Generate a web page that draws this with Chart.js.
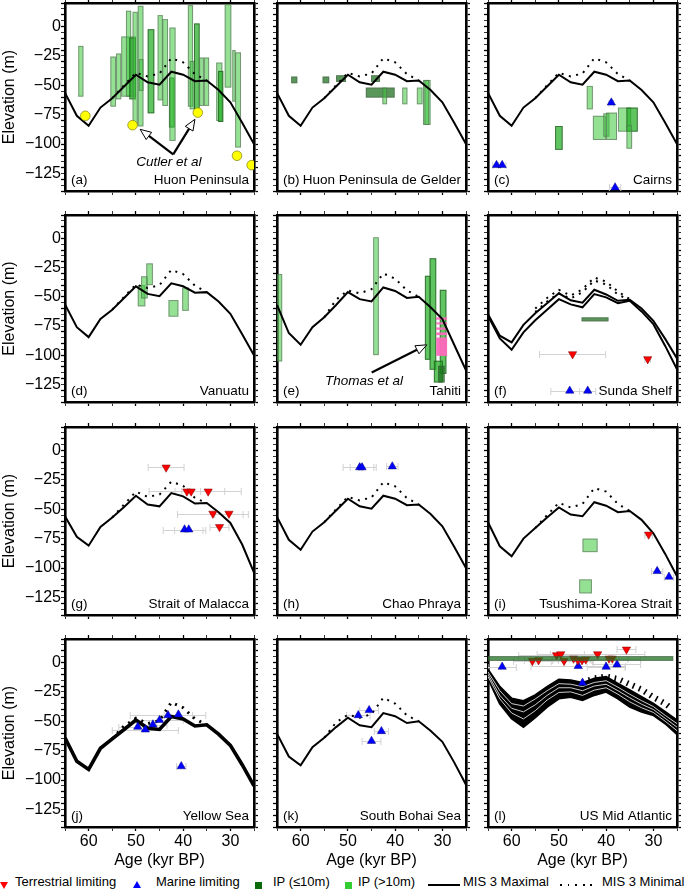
<!DOCTYPE html>
<html>
<head>
<meta charset="utf-8">
<title>MIS 3 sea level</title>
<script src="https://cdn.jsdelivr.net/npm/chart.js@4.4.1/dist/chart.umd.min.js"></script>
<style>
  body { margin: 0; width: 685px; height: 891px; background: #fff; position: relative; overflow: hidden; font-family: "Liberation Sans", Arial, Helvetica, sans-serif; }
  canvas { position: absolute; }
  .lt { position: absolute; top: 874px; font-size: 13px; line-height: 16px; white-space: nowrap; color: #000; }
  .mk { position: absolute; }
</style>
</head>
<body>
<div class="mk" style="left:0;top:882px;width:0;height:0;border-left:4.5px solid transparent;border-right:4.5px solid transparent;border-top:7.5px solid #f00"></div>
<span class="lt" style="left:15px">Terrestrial limiting</span>
<div class="mk" style="left:133px;top:881px;width:0;height:0;border-left:4.5px solid transparent;border-right:4.5px solid transparent;border-bottom:7.5px solid #00f"></div>
<span class="lt" style="left:156px">Marine limiting</span>
<div class="mk" style="left:255px;top:882px;width:7px;height:7px;background:#0b6b0b"></div>
<span class="lt" style="left:273px">IP (≤10m)</span>
<div class="mk" style="left:345px;top:882px;width:7px;height:7px;background:#33cc33"></div>
<span class="lt" style="left:358px">IP (&gt;10m)</span>
<div class="mk" style="left:428px;top:884px;width:32px;height:2px;background:#000"></div>
<span class="lt" style="left:463px">MIS 3 Maximal</span>
<div class="mk" style="left:560px;top:884px;width:38px;height:2px;background:repeating-linear-gradient(90deg,#000 0 2px,transparent 2px 7.5px)"></div>
<span class="lt" style="left:602px">MIS 3 Minimal</span>

<script>
const FONT = '"Liberation Sans", Arial, Helvetica, sans-serif';

// ages of the MIS 3 curves (kyr BP)
const ages = [65, 62.5, 60, 57.5, 55, 52.5, 50, 47.5, 45, 42.5, 40, 37.5, 35, 32.5, 30, 27.5, 25];
const minAges = [55, 52.5, 50, 47.5, 45, 42.5, 40, 37.5, 35];
const lMinAges = [45, 42.5, 40, 37.5, 35, 32.5, 30, 27.5, 26];

// MIS 3 maximal (solid) and minimal (dotted) relative sea level, m
const maxHuon = [-56.5, -76, -84.5, -69, -61, -51, -41, -47.5, -49.5, -38.5, -41, -46.5, -46, -54, -64.5, -82, -100];
const minHuon = [-61, -50, -39.5, -42.5, -40, -27, -30.5, -40.5, -46];
const maxE = [-57, -81, -91, -76, -67.5, -57, -46, -52, -54, -42, -45, -51, -50, -59, -69, -91, -113];
const minE = [-67.5, -52.5, -44.5, -47, -43.5, -30, -34.5, -44.5, -50];
const maxF1 = [-64.8, -83.3, -89, -74, -64, -55.5, -47, -53, -55, -44, -48, -53.4, -52.5, -60, -70.5, -86, -102.7];
const maxF2 = [-66.2, -85.6, -95.3, -80.4, -70, -61, -52, -56.5, -59, -47.7, -50.5, -55.4, -53.4, -62.5, -73.4, -92, -112];
const minF1 = [-60, -51, -44, -49, -43.5, -33.5, -37, -45.5, -52];
const minF2 = [-63, -54, -47, -51.5, -46, -36, -39.5, -48, -53];
const maxG = [-56, -73.5, -81, -65, -57, -48, -38.5, -46, -47.5, -36.2, -39, -45.2, -44.7, -52.6, -61.7, -80, -104];
const minG = [-57, -46, -35, -39.5, -37.5, -26.5, -30, -40.4, -44.7];
const maxI = [-61, -81.5, -90, -75, -66, -57, -48.5, -54.5, -56, -44, -47, -52.5, -51.5, -59, -70.5, -88, -107];
const minI = [-66, -55, -44.5, -48.5, -45.5, -32, -35, -45.5, -51.5];
const maxJ = [-64, -84, -91, -73, -65, -57, -49, -56, -57, -46, -48, -54, -53, -61, -70.5, -87, -105];
const minJ = [-65, -54, -47.5, -52, -49.5, -34, -38.5, -48, -53];
const maxK = [-60.5, -80, -87.5, -72, -64, -55, -47, -53.5, -55, -43, -45.7, -51.5, -50, -58, -67.5, -85, -104];
const minK = [-64, -51, -44.5, -47, -44, -30, -35, -45, -50];
// US Mid Atlantic: envelope of the maximal ensemble and a few members inside it
const bandTopL = [-6, -20.7, -30.7, -32.7, -27.8, -20.7, -14.5, -15, -17.3, -13.6, -12.2, -17.9, -23.6, -29.3, -35, -42, -49.1];
const bandBotL = [-13.6, -35, -47.7, -54.8, -46.9, -37.8, -30.7, -29.3, -32.1, -27.8, -25, -30.7, -37.8, -42, -44.9, -52, -61];
const bandMidL1 = [-8, -24, -35, -37, -31, -24, -18, -18.5, -20.5, -17, -15.5, -21, -27, -32.5, -37.5, -45, -52];
const bandMidL2 = [-10, -28, -39, -42, -36, -28, -21.5, -21.5, -24, -20, -18.5, -24, -30, -35.5, -40, -47.5, -55];
const bandMidL3 = [-12, -31, -43, -48, -41, -32, -25.5, -25, -28, -23.5, -21.5, -27, -33.5, -38.5, -42.5, -50, -58];
const minL = [-17, -13.5, -12, -14, -18.5, -23, -29.5, -35, -39.5];

// index points: [older age, younger age, lower elev, upper elev, class]  l: IP >10m, m: overlapping IP, d: IP <=10m, p: Thomas et al
const boxesA = [
  [62.2, 61.1, -59.7, -16.5, 'l'], [55.4, 54.2, -68.2, -25.6, 'l'], [54.2, 53.1, -62, -23, 'l'],
  [53.1, 50, -59.7, -8.5, 'l'], [52.1, 51, -59.7, 13.4, 'l'], [51.4, 50, -62, -9.4, 'm'],
  [50.7, 49.6, -84, 12.5, 'l'], [49.6, 48.4, -85, 17.6, 'l'], [49.4, 48.4, -54.8, -27.8, 'l'],
  [47.5, 46.1, -73.9, -2.3, 'm'], [45.4, 44.3, -62.8, 9.7, 'l'], [44.4, 43.2, -67.6, 6.3, 'l'],
  [43, 41.8, -86, -43.5, 'm'], [42.9, 41.6, -97.4, -0.9, 'l'], [39, 37.9, -68.2, 18.2, 'l'],
  [38.6, 37.6, -70.5, -29.3, 'l'], [37.7, 36.5, -73.3, 2.6, 'm'], [36.6, 35.6, -67.6, -26.4, 'l'],
  [35.6, 34.5, -67.6, -26.4, 'l'], [33, 31.7, -80.4, -30.7, 'l'], [32.6, 31.5, -81.3, -37.8, 'm'],
  [31.2, 29.8, -52, 19, 'l'], [29.6, 28.9, -64, -20, 'l'], [29, 27.75, -103, -22, 'l']
];
const boxesB = [
  [62, 60.7, -48.3, -42.6, 'd'], [55.35, 53.95, -48.3, -42.6, 'd'], [52.5, 50.4, -47.2, -41.5, 'd'],
  [45.1, 43.2, -47.2, -41.5, 'd'], [46.2, 40.1, -60.5, -52, 'd'], [42.7, 41.7, -66.2, -52, 'l'],
  [38.5, 37.4, -66.2, -52, 'l'], [35.4, 34.2, -66.2, -52, 'l'], [34.1, 32.5, -83.8, -45.5, 'l'],
  [33.8, 32.8, -83.8, -45.5, 'l']
];
const boxesC = [
  [44.1, 42.8, -70.5, -50.6, 'l'], [50.8, 49.2, -105, -84.7, 'm'], [42.8, 40, -96.6, -76, 'l'],
  [40.6, 39.3, -93.8, -73.9, 'l'], [40, 37.7, -96.6, -73.3, 'l'], [37.5, 34.7, -89.5, -69, 'l'],
  [35.7, 33.3, -89.5, -69, 'm'], [35.7, 34.5, -104, -84, 'l']
];
const boxesD = [
  [49.6, 48, -58.2, -40, 'l'], [48.9, 47.5, -51.4, -32.5, 'l'], [47.8, 46.4, -40, -21.4, 'l'],
  [43.1, 41, -67, -52.8, 'l'], [40.2, 38.8, -62, -42, 'l']
];
const boxesE = [
  [65, 63.9, -105.3, -30.5, 'l'], [44.65, 43.45, -99.9, 0.9, 'l'], [33.7, 32.5, -103.9, -32, 'm'],
  [32.7, 31.3, -112.4, -17, 'm'], [30.55, 29.15, -116, -44, 'm'], [31.8, 29.9, -123.3, -104.7, 'm'],
  [30.9, 29.5, -123.3, -109, 'd'],
  [31.3, 29, -69.6, -67.6, 'p'], [31.3, 29, -73.6, -71.9, 'p'], [31.3, 29, -78.2, -76.2, 'p'],
  [31.3, 29, -82.8, -80.5, 'p'], [31.3, 29, -100.5, -84.8, 'p']
];
const boxesF = [[45.2, 39.5, -71, -67.6, 'd']];
const boxesI = [[45, 41.8, -86.5, -75, 'l'], [45.7, 43, -121.6, -109.7, 'l']];
const boxesL = [[65, 25.8, 1.4, 5.4, 'd']];

// limiting points: [age, elevation, age error]
const circlesA = [[60.7, -76], [50.7, -84], [36.9, -73.3], [28.6, -110], [25.5, -118]];
const marineC = [[63.2, -118, 0.8], [62, -118, 0.8], [38.9, -64.8, 0.5], [38.1, -137, 1.2]];
const terrF = [[47.1, -99, 7], [31.2, -103.3, 0.6]];
const marineF = [[47.7, -130.4, 4], [43.9, -130.4, 1.7]];
const terrG = [[43.6, -14.4, 3.8], [39.2, -34.8, 8], [38.3, -34.8, 2], [34.7, -34.8, 7], [33.7, -53.7, 7.5], [30.3, -53.7, 3], [32.3, -65, 2]];
const marineG = [[39.7, -67.3, 4.5], [38.8, -67.3, 3]];
const marineH = [[47.5, -14.4, 3.5], [47, -14.4, 2.5], [40.6, -13.6, 1.2]];
const terrI = [[31, -71.5, 0.8]];
const marineI = [[29.2, -102.7, 1.2], [26.7, -107.5, 1]];
const marineJ = [[49.6, -54.8, 4], [48, -57.1, 7], [46.4, -52.8, 3], [45, -49.1, 5], [43.2, -44.9, 8], [41, -44.3, 3], [40.4, -88.4, 1]];
const marineK = [[47.8, -44.9, 2.5], [45.5, -40.6, 2], [42.9, -58.5, 1.5], [45, -66.8, 2]];
const terrL = [[55.6, 1.4, 4], [54.3, 2, 3], [50.5, 6.3, 8], [49.6, 7.1, 5], [48.9, 1.4, 6], [46.9, 3.4, 9], [46, 2, 3],
  [45.1, 2, 5], [44.3, 2.6, 7], [41.8, 7.1, 10], [39.4, 3.4, 4], [38.7, 3.4, 6], [35.7, 11.1, 2]];
const marineL = [[62, -3.7, 3], [45.9, -3.1, 10], [40, -3.7, 4], [37.7, -1.7, 5], [45, -17.3, 2]];

const xTickVals = [25, 30, 35, 40, 45, 50, 55, 60, 65];
const yTickVals = [];
for (let v = -140; v <= 20; v += 5) yTickVals.push(v);

const panels = [
  { tag: '(a)', name: 'Huon Peninsula', maxs: [maxHuon], mins: [minHuon], boxes: boxesA, circles: circlesA,
    arrows: [[42.1, -108.8, 49.1, -87.5], [42.1, -108.8, 37.5, -79]], notes: [['Cutler et al', 43, -115.6]] },
  { tag: '(b)', name: 'Huon Peninsula de Gelder', maxs: [maxHuon], mins: [minHuon], boxes: boxesB },
  { tag: '(c)', name: 'Cairns', maxs: [maxHuon], mins: [minHuon], boxes: boxesC, marine: marineC },
  { tag: '(d)', name: 'Vanuatu', maxs: [maxHuon], mins: [minHuon], boxes: boxesD },
  { tag: '(e)', name: 'Tahiti', maxs: [maxE], mins: [minE], boxes: boxesE,
    arrows: [[44.96, -114.7, 33.3, -91.1]], notes: [['Thomas et al', 46.6, -121.9]] },
  { tag: '(f)', name: 'Sunda Shelf', maxs: [maxF1, maxF2], mins: [minF1, minF2], boxes: boxesF, terr: terrF, marine: marineF },
  { tag: '(g)', name: 'Strait of Malacca', maxs: [maxG], mins: [minG], terr: terrG, marine: marineG },
  { tag: '(h)', name: 'Chao Phraya', maxs: [maxHuon], mins: [minHuon], marine: marineH },
  { tag: '(i)', name: 'Tsushima-Korea Strait', maxs: [maxI], mins: [minI], boxes: boxesI, terr: terrI, marine: marineI },
  { tag: '(j)', name: 'Yellow Sea', maxs: [maxJ], mins: [minJ], marine: marineJ, thick: true },
  { tag: '(k)', name: 'South Bohai Sea', maxs: [maxK], mins: [minK], marine: marineK },
  { tag: '(l)', name: 'US Mid Atlantic', bundle: [bandTopL, bandBotL, bandMidL1, bandMidL2, bandMidL3], minBand: minL,
    boxes: boxesL, boxesOnTop: true, terr: terrL, marine: marineL }
];

// layout of the plot areas (px)
const colL = [65, 277, 488];
const rowT = [3, 215, 427, 639];
const rowH = [188, 187, 188, 188];
const PW = 189;

const BOX_FILL = { l: 'rgba(60,200,60,0.55)', m: 'rgba(35,175,35,0.72)', d: 'rgba(25,110,25,0.72)', p: 'rgba(255,105,190,0.95)' };
const BOX_LINE = { l: 'rgba(90,90,90,0.55)', m: 'rgba(30,60,30,0.6)', d: 'rgba(80,80,80,0.45)', p: null };

function drawBoxes(chart, boxes) {
  if (!boxes) return;
  const { ctx, chartArea: ca, scales: { x, y } } = chart;
  ctx.save();
  ctx.beginPath(); ctx.rect(ca.left, ca.top, ca.width, ca.height); ctx.clip();
  boxes.forEach(b => {
    const xa = x.getPixelForValue(b[0]), xb = x.getPixelForValue(b[1]);
    const ya = y.getPixelForValue(b[2]), yb = y.getPixelForValue(b[3]);
    const l = Math.min(xa, xb), t = Math.min(ya, yb), w = Math.abs(xb - xa), h = Math.abs(yb - ya);
    ctx.fillStyle = BOX_FILL[b[4]];
    ctx.fillRect(l, t, w, h);
    if (BOX_LINE[b[4]]) {
      ctx.strokeStyle = BOX_LINE[b[4]]; ctx.lineWidth = 1;
      ctx.strokeRect(l + 0.5, t + 0.5, w - 1, h - 1);
    }
  });
  ctx.restore();
}

function drawArrow(ctx, x0, y0, x1, y1) {
  const ang = Math.atan2(y1 - y0, x1 - x0), L = 11, W = 4.5;
  const bx = x1 - L * Math.cos(ang), by = y1 - L * Math.sin(ang);
  ctx.strokeStyle = '#000'; ctx.lineWidth = 2.2;
  ctx.beginPath(); ctx.moveTo(x0, y0); ctx.lineTo(bx, by); ctx.stroke();
  ctx.beginPath(); ctx.moveTo(x1, y1);
  ctx.lineTo(bx + W * Math.sin(ang), by - W * Math.cos(ang));
  ctx.lineTo(bx - W * Math.sin(ang), by + W * Math.cos(ang));
  ctx.closePath();
  ctx.fillStyle = '#fff'; ctx.fill();
  ctx.lineWidth = 1; ctx.stroke();
}

const extras = {
  id: 'extras',
  beforeDatasetsDraw(chart, args, o) {
    const { ctx, chartArea: ca, scales: { x, y } } = chart;
    ctx.save();
    ctx.beginPath(); ctx.rect(ca.left, ca.top, ca.width, ca.height); ctx.clip();
    ctx.strokeStyle = '#d2d2d2'; ctx.lineWidth = 1;
    (o.errs || []).forEach(e => {
      const x0 = x.getPixelForValue(e[0] + e[2]), x1 = x.getPixelForValue(e[0] - e[2]);
      const py = Math.round(y.getPixelForValue(e[1])) + 0.5;
      ctx.beginPath();
      ctx.moveTo(x0, py); ctx.lineTo(x1, py);
      ctx.moveTo(x0, py - 3.5); ctx.lineTo(x0, py + 3.5);
      ctx.moveTo(x1, py - 3.5); ctx.lineTo(x1, py + 3.5);
      ctx.stroke();
    });
    ctx.restore();
    if (!o.boxesOnTop) drawBoxes(chart, o.boxes);
  },
  afterDatasetsDraw(chart, args, o) {
    const { ctx, chartArea: ca, scales: { x, y } } = chart;
    if (o.boxesOnTop) drawBoxes(chart, o.boxes);
    ctx.save();
    (o.arrows || []).forEach(a => drawArrow(ctx, x.getPixelForValue(a[0]), y.getPixelForValue(a[1]),
      x.getPixelForValue(a[2]), y.getPixelForValue(a[3])));
    ctx.fillStyle = '#000';
    ctx.font = 'italic 13.5px ' + FONT;
    ctx.textAlign = 'center'; ctx.textBaseline = 'middle';
    (o.notes || []).forEach(n => ctx.fillText(n[0], x.getPixelForValue(n[1]), y.getPixelForValue(n[2])));
    ctx.font = '13.5px ' + FONT;
    ctx.textBaseline = 'alphabetic';
    ctx.textAlign = 'left'; ctx.fillText(o.tag, ca.left + 6, ca.bottom - 7);
    ctx.textAlign = 'right'; ctx.fillText(o.name, ca.right - 5, ca.bottom - 7);
    ctx.restore();
  }
};

function series(xs, ys) { return xs.map((v, i) => ({ x: v, y: ys[i] })); }
function pts(list) { return list.map(p => ({ x: p[0], y: p[1] })); }

function buildDatasets(p) {
  const ds = [];
  if (p.bundle) {
    const [top, bot, ...mids] = p.bundle;
    ds.push({ data: series(ages, top), borderColor: '#000', borderWidth: 2 });
    ds.push({ data: series(ages, bot), borderColor: '#000', borderWidth: 2, fill: '-1', backgroundColor: '#000' });
    mids.forEach(m => ds.push({ data: series(ages, m), borderColor: '#fff', borderWidth: 0.8 }));
    ds.push({ data: series(lMinAges, p.minBand), borderColor: '#000', borderWidth: 6, borderDash: [1.6, 5] });
  }
  (p.mins || []).forEach(m => ds.push({ data: series(minAges, m), borderColor: '#000',
    borderWidth: p.thick ? 3 : 2, borderDash: [2, 5.5] }));
  (p.maxs || []).forEach(m => ds.push({ data: series(ages, m), borderColor: '#000', borderWidth: p.thick ? 3.6 : 2 }));
  if (p.circles) ds.push({ data: pts(p.circles), showLine: false, pointStyle: 'circle', pointRadius: 4.8,
    pointBackgroundColor: '#ffff00', pointBorderColor: '#8c8c1e', pointBorderWidth: 0.8 });
  if (p.marine) ds.push({ data: pts(p.marine), showLine: false, pointStyle: 'triangle', pointRadius: 4.8,
    pointBackgroundColor: '#0000ff', pointBorderColor: '#00007a', pointBorderWidth: 0.5 });
  if (p.terr) ds.push({ data: pts(p.terr), showLine: false, pointStyle: 'triangle', pointRotation: 180, pointRadius: 4.8,
    pointBackgroundColor: '#ff0000', pointBorderColor: '#7a0000', pointBorderWidth: 0.5 });
  ds.forEach((d, i) => {
    d.order = ds.length - i;
    if (d.pointRadius === undefined) d.pointRadius = 0;
    if (d.fill === undefined) d.fill = false;
    d.tension = 0;
  });
  return ds;
}

function fixSize(w, h) {
  return s => {
    if (w !== null) s.width = w;
    if (h !== null) s.height = h;
    s.paddingLeft = s.paddingRight = s.paddingTop = s.paddingBottom = 0;
  };
}

function buildScales(c, r, Lw, Rw, Tw, Bw) {
  const font = { family: FONT, size: 16 };
  const grid = { drawOnChartArea: false, drawTicks: true, tickLength: 4, color: '#000',
    tickWidth: k => (k.tick && k.tick.value % 10 === 0) ? 1.3 : 0.8 };
  const border = { display: true, color: '#000', width: 2.6 };
  const xLab = r === 3, yLab = c === 0;
  const xAxis = (pos, h, lab) => ({
    type: 'linear', position: pos, min: 25, max: 65, reverse: true,
    afterBuildTicks: s => { s.ticks = xTickVals.map(v => ({ value: v })); },
    afterFit: fixSize(null, h), grid, border,
    ticks: { autoSkip: false, maxRotation: 0, minRotation: 0, padding: 1, color: '#000', font,
      callback: v => (lab && v % 10 === 0 && v > 25 && v < 65) ? String(v) : '' },
    title: { display: lab, text: 'Age (kyr BP)', color: '#000', font, padding: 0 }
  });
  const yAxis = (pos, w, lab) => ({
    type: 'linear', position: pos, min: -140, max: 20,
    afterBuildTicks: s => { s.ticks = yTickVals.map(v => ({ value: v })); },
    afterFit: fixSize(w, null), grid, border,
    ticks: { autoSkip: false, padding: 0, color: '#000', font,
      callback: v => (lab && v % 25 === 0 && v > -140 && v < 20) ? (v < 0 ? '\u2212' + (-v) : String(v)) : '' },
    title: { display: lab, text: 'Elevation (m)', color: '#000', font, padding: 0 }
  });
  return {
    x: xAxis('bottom', Bw, xLab),
    xt: xAxis('top', Tw, false),
    y: yAxis('left', Lw, yLab),
    yr: yAxis('right', Rw, false)
  };
}

panels.forEach((p, i) => {
  const c = i % 3, r = Math.floor(i / 3);
  const Lw = c === 0 ? 65 : 8, Rw = 8, Tw = 8, Bw = r === 3 ? 43 : 8;
  const cv = document.createElement('canvas');
  cv.width = Lw + PW + Rw;
  cv.height = Tw + rowH[r] + Bw;
  cv.style.left = (colL[c] - Lw) + 'px';
  cv.style.top = (rowT[r] - Tw) + 'px';
  document.body.appendChild(cv);
  const errs = (p.terr || []).concat(p.marine || []);
  new Chart(cv, {
    type: 'line',
    data: { datasets: buildDatasets(p) },
    options: {
      responsive: false,
      animation: false,
      events: [],
      layout: { padding: 0 },
      scales: buildScales(c, r, Lw, Rw, Tw, Bw),
      plugins: {
        legend: { display: false },
        tooltip: { enabled: false },
        extras: { boxes: p.boxes, boxesOnTop: !!p.boxesOnTop, errs: errs, arrows: p.arrows, notes: p.notes, tag: p.tag, name: p.name }
      }
    },
    plugins: [extras]
  });
});
</script>
</body>
</html>
